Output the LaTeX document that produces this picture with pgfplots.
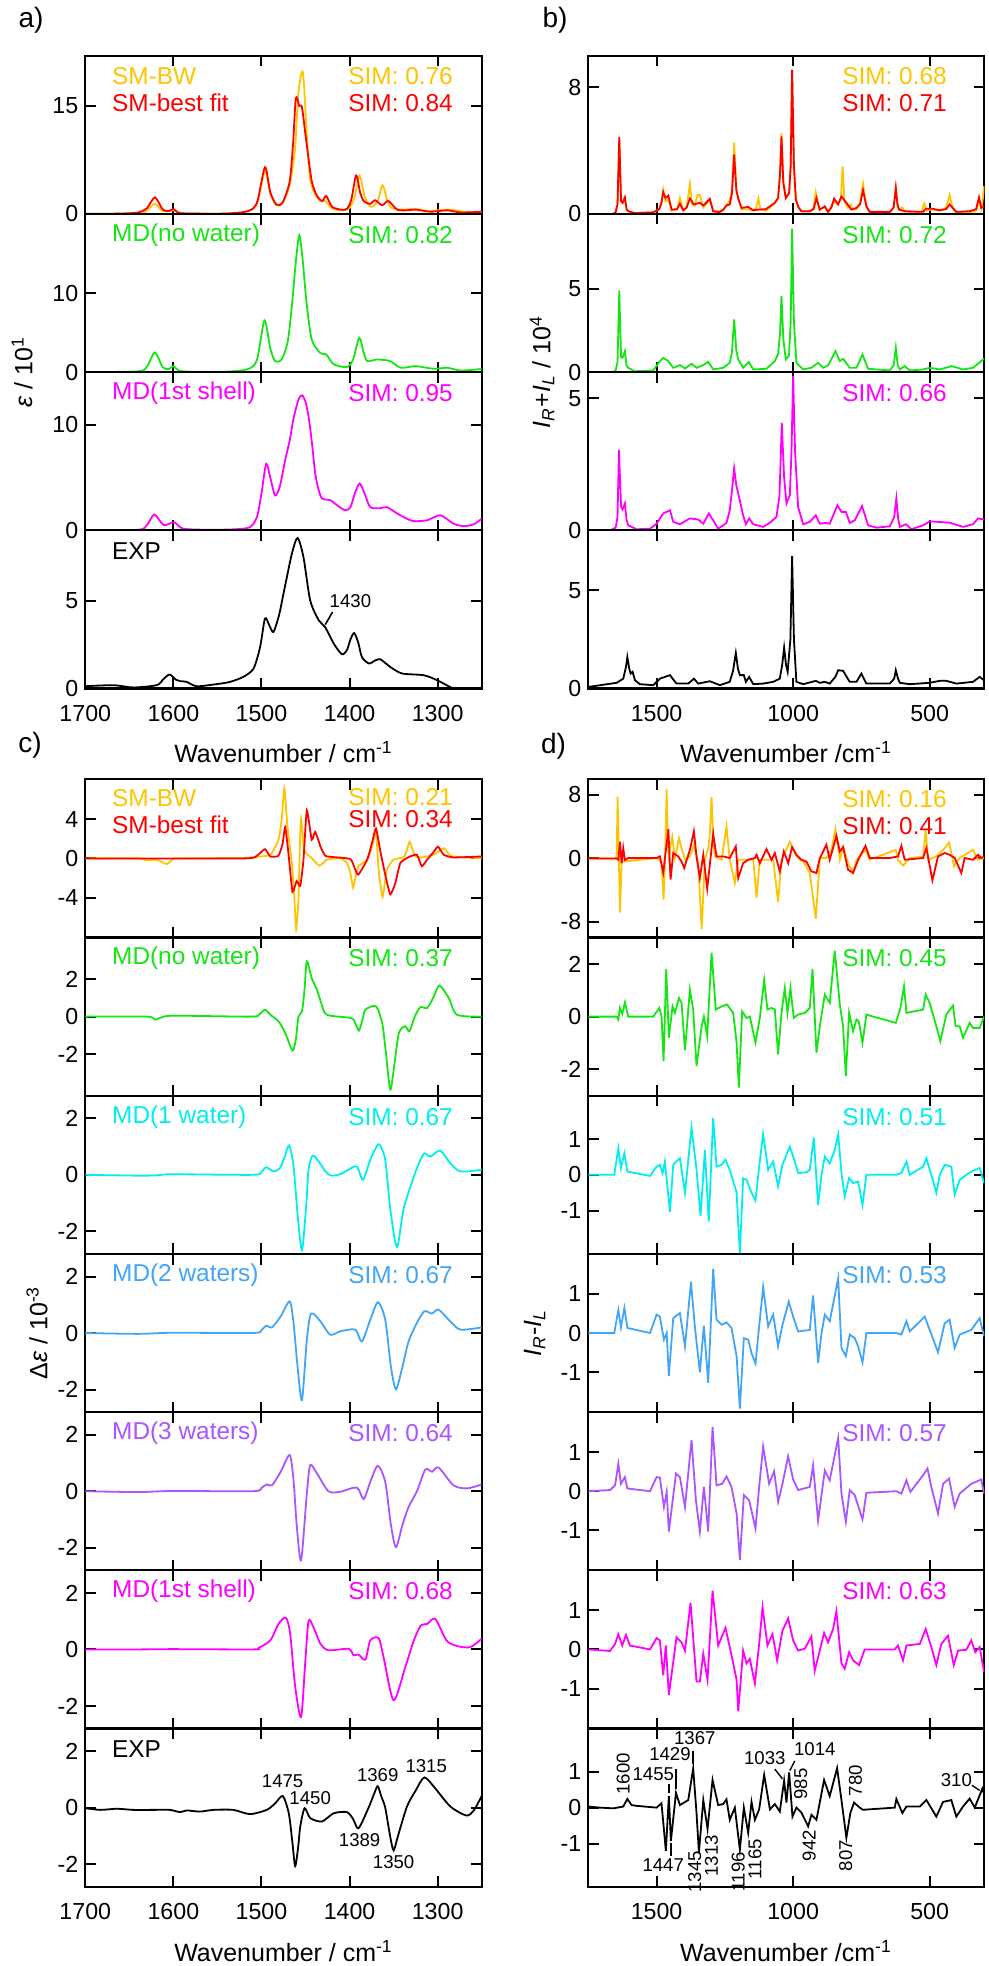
\documentclass[border=0pt]{standalone}
\usepackage{fontspec}
\setmainfont{Liberation Sans}
\usepackage{pgfplots}
\pgfplotsset{compat=1.18}
\definecolor{cgold}{RGB}{255,196,0}
\definecolor{cred}{RGB}{255,0,0}
\definecolor{cgreen}{RGB}{20,230,20}
\definecolor{cmag}{RGB}{255,0,255}
\definecolor{ccyan}{RGB}{0,238,238}
\definecolor{cblue}{RGB}{66,165,245}
\definecolor{cpurp}{RGB}{170,85,255}
\newcommand{\tkf}{\fontsize{11.6}{13}\selectfont}
\newcommand{\lbf}{\fontsize{12.2}{14}\selectfont}
\newcommand{\axf}{\fontsize{12.5}{14}\selectfont}
\newcommand{\anf}{\fontsize{9.3}{11}\selectfont}
\newcommand{\pnf}{\fontsize{14}{16}\selectfont}
\pgfplotsset{
  sub/.style={scale only axis, height=79.1pt, x dir=reverse, anchor=south west,
    axis line style={line width=1.1pt}, tick style={line width=1pt, black},
    major tick length=5.3pt, tick label style={font=\tkf},
    /pgf/number format/assume math mode=true,
    /pgf/number format/1000 sep={},
    xticklabel style={yshift=-5pt},
    every axis plot/.append style={line width=0.9pt, mark=none}},
  aset/.style={sub, width=198.2pt, xmin=1250, xmax=1700, xtick={1300,1400,1500,1600,1700},
    every axis plot/.append style={smooth, tension=0.45}},
  bset/.style={sub, width=198pt, xmin=300, xmax=1750, xtick={500,1000,1500}},
  nox/.style={xticklabels={}}
}
\newcommand{\Ltxt}[3]{\node[anchor=west,text=#1,font=\lbf] at (rel axis cs:0.05,#2) {#3};}
\newcommand{\Rtxt}[3]{\node[anchor=east,text=#1,font=\lbf] at (rel axis cs:0.945,#2) {#3};}
\newcommand{\Rtxtb}[3]{\node[anchor=east,text=#1,font=\lbf] at (rel axis cs:0.923,#2) {#3};}
\begin{document}
\begin{tikzpicture}
\path[use as bounding box] (0,0) rectangle (494.5pt,-983pt);
% ---------------- panel a ----------------
\begin{axis}[aset, nox, at={(42.65pt,-106.95pt)}, ymin=0, ymax=22, ytick={0,15}]
\addplot[cgold] coordinates {(1700,0) (1640,0.1) (1630,0.5) (1621,1.4) (1612,0.4) (1600,0.5) (1590,0.1) (1540,0.05) (1515,0.4) (1505,1.5) (1496,5.95) (1490,2.8) (1483,1.2) (1476,1.5) (1468,4.0) (1462,9) (1458,16.9) (1453,19.7) (1449,12) (1445,5) (1439,2.7) (1433,1.8) (1427.6,1.8) (1420,0.8) (1410,0.5) (1400,0.8) (1394,2.5) (1388.6,5.35) (1383,2.5) (1378,1.2) (1374,1.0) (1368,1.8) (1362.5,4.0) (1357,1.8) (1352,0.8) (1340,0.6) (1325,0.7) (1310,0.4) (1287.5,0.6) (1270,0.3) (1250,0.2)};
\addplot[cred] coordinates {(1700,0) (1660,0.05) (1640,0.2) (1630,0.8) (1621,2.3) (1612,0.6) (1605,0.4) (1600,0.7) (1594,0.15) (1580,0.05) (1540,0.05) (1515,0.4) (1505,1.6) (1496,6.5) (1490,3.0) (1483,1.3) (1476,1.6) (1468,4.5) (1464,10) (1461,16.1) (1457,15.0) (1454,14.8) (1449,10) (1443,4.6) (1437,2.5) (1431,1.8) (1426.5,2.5) (1420,1.0) (1410,0.6) (1403,0.7) (1398,2.0) (1392.5,5.35) (1388,3.0) (1384,1.8) (1376.5,1.4) (1371,1.9) (1363,1.2) (1356,1.8) (1346,0.6) (1335,0.5) (1325,0.6) (1308,0.3) (1289,0.5) (1274,0.2) (1250,0.3)};
\Ltxt{cgold}{0.872}{SM-BW}
\Ltxt{cred}{0.703}{SM-best fit}
\Rtxt{cgold}{0.872}{SIM: 0.76}
\Rtxt{cred}{0.703}{SIM: 0.84}
\end{axis}
\begin{axis}[aset, nox, at={(42.65pt,-186.05pt)}, ymin=0, ymax=20.1, ytick={0,10}]
\addplot[cgreen] coordinates {(1700,0) (1640,0.1) (1630,0.7) (1621,2.5) (1612,0.6) (1605,0.4) (1600,0.76) (1594,0.2) (1580,0.05) (1540,0.05) (1515,0.4) (1505,1.6) (1496.6,6.57) (1490,3.0) (1484.5,1.4) (1477,1.6) (1470,4) (1465,9) (1461,14) (1457,17.4) (1453,14) (1449,9) (1443,4.15) (1433,2.4) (1426.5,2.25) (1418,1.0) (1403,0.64) (1396,1.6) (1389,4.36) (1384,2.5) (1380,1.4) (1369,1.6) (1354,1.4) (1342,0.55) (1325,0.76) (1304.5,0.42) (1289,0.55) (1274,0.2) (1250,0.4)};
\Ltxt{cgreen}{0.867}{MD(no water)}
\Rtxt{cgreen}{0.867}{SIM: 0.82}
\end{axis}
\begin{axis}[aset, nox, at={(42.65pt,-265.15pt)}, ymin=0, ymax=15, ytick={0,10}]
\addplot[cmag] coordinates {(1700,0) (1640,0.05) (1630,0.5) (1621.6,1.5) (1611,0.5) (1599,0.76) (1589,0.16) (1560,0.05) (1530,0.1) (1513,0.3) (1505,1.3) (1500,3.5) (1494.7,6.3) (1490,5) (1484.5,3.3) (1479,4.2) (1473,6.7) (1468,8.5) (1463.6,10.6) (1458,12.4) (1454,12.8) (1450,12.2) (1446.6,10.8) (1443,8.5) (1439,5.4) (1435,3.8) (1431,3.0) (1422,2.86) (1414.4,2.4) (1405,1.9) (1399,2.2) (1394,3.5) (1388.6,4.44) (1383,3.5) (1376.5,2.2) (1365,2.1) (1357.6,2.2) (1346,1.6) (1329,0.9) (1312,0.95) (1297,1.43) (1282,0.63) (1270.5,0.4) (1259,0.57) (1250,1.1)};
\Ltxt{cmag}{0.867}{MD(1st shell)}
\Rtxt{cmag}{0.867}{SIM: 0.95}
\end{axis}
\begin{axis}[aset, at={(42.65pt,-344.25pt)}, ymin=0, ymax=9.04, ytick={0,5}]
\addplot[black] coordinates {(1700,0.13) (1668,0.19) (1645.5,0.06) (1619,0.19) (1612,0.5) (1604.5,0.8) (1597,0.5) (1592.4,0.42) (1585,0.38) (1573.5,0.13) (1551,0.25) (1535.6,0.38) (1520.5,0.67) (1509,1.14) (1501.5,2.38) (1496,4.0) (1491,3.6) (1486.4,3.23) (1480,4.2) (1475,5.42) (1465.5,7.7) (1459,8.6) (1452.3,7.5) (1444.7,5.04) (1435,3.9) (1427.6,3.5) (1418,2.57) (1408.7,1.96) (1403,2.19) (1399,2.8) (1394.7,3.17) (1390,2.6) (1386,1.8) (1378,1.43) (1371,1.6) (1365,1.67) (1354,1.24) (1340.5,0.86) (1316,0.76) (1300.8,0.48) (1282.6,0) (1265,-0.4) (1250,-0.6)};
\Ltxt{black}{0.867}{EXP}
\draw[line width=0.8pt] (axis cs:1427.6,3.65) -- (axis cs:1419.3,4.37);
\node[font=\anf] at (axis cs:1399,5.0) {1430};
\end{axis}
% ---------------- panel b ----------------
\begin{axis}[bset, nox, at={(294.15pt,-106.95pt)}, ymin=0, ymax=10, ytick={0,8}]
\addplot[cgold] coordinates {(1750,0) (1660,0) (1650,0.1) (1643,0.6) (1636.6,4.7) (1630,0.8) (1624.4,0.7) (1616,1.0) (1610,0.3) (1603.7,0.17) (1580,0.05) (1512,0.1) (1490,0.3) (1482,0.8) (1475.6,1.55) (1467,0.8) (1457,0.9) (1445,0.2) (1425,0.3) (1414.6,1.0) (1402.4,0.2) (1390,0.4) (1378,1.9) (1370,0.6) (1360,0.5) (1350,1.2) (1341.5,1.2) (1329,0.4) (1305,0.9) (1292.7,0.15) (1256,0.2) (1244,0.6) (1232,0.84) (1224,1.5) (1216,4.5) (1208,1.6) (1201,1.0) (1189,0.3) (1164.6,0.3) (1146,0.2) (1135,0.4) (1127,1.0) (1120,0.3) (1100,0.2) (1085,0.4) (1067,0.7) (1055,1.0) (1048,2.6) (1042.7,5.1) (1036,2.0) (1027,1.0) (1014.6,1.3) (1009,3) (1003.7,9.1) (997,3.0) (990,0.9) (980,0.4) (969.5,0.15) (939,0.15) (925,0.4) (917,1.37) (905,0.3) (884,0.4) (872,0.1) (850,0.8) (835,0.6) (825,1.0) (819,3.0) (812,0.8) (800,0.4) (790,0.6) (780,0.3) (768,0.3) (755,0.7) (744,1.9) (731.7,0.4) (719.5,0.1) (646,0.1) (632,0.4) (624,1.6) (618,0.6) (612,0.3) (600,0.4) (591.5,0.15) (530,0.1) (520,0.65) (510,0.2) (494,0.3) (463,0.2) (440,0.4) (427,1.2) (415,0.3) (402.4,0.1) (353.6,0.1) (330,0.2) (319.5,0.8) (311,0.3) (305,1.0) (301,1.75)};
\addplot[cred] coordinates {(1750,0) (1660,0) (1650,0.1) (1643,0.6) (1636.6,4.86) (1630,0.8) (1624.4,0.7) (1616,1.05) (1610,0.3) (1603.7,0.17) (1580,0.05) (1512,0.1) (1490,0.3) (1482,0.7) (1475.6,1.37) (1467,1.0) (1457,1.16) (1445,0.27) (1425,0.3) (1414.6,0.65) (1402.4,0.23) (1390,0.4) (1378,0.97) (1363.4,0.6) (1341.5,0.7) (1329,0.53) (1305,0.95) (1292.7,0.17) (1270,0.1) (1256,0.27) (1244,0.53) (1232,0.6) (1224,1.3) (1216,3.75) (1208,1.5) (1201,0.97) (1189,0.38) (1164.6,0.44) (1146,0.23) (1128,0.27) (1100,0.3) (1085,0.48) (1067,0.7) (1055,1.0) (1048,2.5) (1042.7,4.9) (1036,2.0) (1027,1.0) (1014.6,1.33) (1009,3) (1003.7,9.1) (997,3.0) (990,0.9) (980,0.4) (969.5,0.17) (939,0.17) (925,0.3) (914.6,1.0) (902.4,0.27) (884,0.48) (872,0.13) (860,0.4) (850,0.97) (835.4,0.6) (823,1.1) (805,0.7) (786.6,0.27) (768.3,0.38) (755,0.6) (744,1.5) (731.7,0.48) (719.5,0.13) (646,0.13) (632,0.4) (624,1.64) (618,0.6) (612,0.27) (591.5,0.17) (524.4,0.13) (514.6,0.32) (494,0.34) (463,0.23) (440,0.3) (426.8,0.6) (402.4,0.13) (353.6,0.17) (330,0.3) (319.5,1.05) (311,0.38) (301,0.48)};
\Rtxtb{cgold}{0.872}{SIM: 0.68}
\Rtxtb{cred}{0.703}{SIM: 0.71}
\end{axis}
\begin{axis}[bset, nox, at={(294.15pt,-186.05pt)}, ymin=0, ymax=9.5, ytick={0,5}]
\addplot[cgreen] coordinates {(1750,0) (1660,0) (1650,0.1) (1643,0.6) (1636.6,4.9) (1630,0.9) (1624.4,0.86) (1616,1.26) (1610,0.4) (1603.7,0.26) (1580,0.05) (1512,0.1) (1487.8,0.66) (1475.6,0.86) (1457,0.66) (1439,0.26) (1414.6,0.42) (1396,0.22) (1372,0.5) (1353.7,0.26) (1329,0.42) (1311,0.62) (1292.7,0.16) (1256,0.26) (1232,0.56) (1224,1.2) (1216,3.16) (1208,1.3) (1201,0.76) (1183,0.26) (1162,0.6) (1146,0.16) (1097.6,0.2) (1067,0.66) (1055,1.1) (1048,2.3) (1042.7,4.56) (1036,2.0) (1027,0.76) (1015,1.0) (1009,3) (1003.7,8.6) (997,3) (988,0.56) (963.4,0.16) (933,0.26) (908.5,0.56) (890,0.26) (872,0.4) (845,1.26) (829,0.66) (817,0.8) (792.7,0.26) (768,0.26) (746,1.06) (725.6,0.2) (646,0.1) (632,0.4) (624,1.46) (617,0.4) (609,0.16) (591.5,0.36) (573,0.1) (524,0.16) (500,0.26) (463,0.16) (420,0.36) (378,0.16) (341.5,0.26) (301,0.8)};
\Rtxtb{cgreen}{0.867}{SIM: 0.72}
\end{axis}
\begin{axis}[bset, nox, at={(294.15pt,-265.15pt)}, ymin=0, ymax=6, ytick={0,5}]
\addplot[cmag] coordinates {(1750,0) (1670,0) (1650,0.1) (1643,0.5) (1637.8,3.05) (1630,0.9) (1624.4,0.79) (1616,1.02) (1610,0.4) (1603.7,0.19) (1573,0.04) (1524,0.06) (1500,0.25) (1475.6,0.64) (1451,0.76) (1439,0.32) (1414.6,0.23) (1378,0.45) (1347.6,0.41) (1329,0.25) (1308.5,0.64) (1292.7,0.38) (1274.4,0.06) (1244,0.28) (1232,0.76) (1224,1.5) (1216,2.35) (1208,1.7) (1201,1.4) (1183,0.57) (1173,0.23) (1161,0.45) (1146,0.23) (1109.8,0.13) (1085,0.29) (1061,0.51) (1050,1.3) (1041.5,4.07) (1033,2.0) (1024.4,1.02) (1012,1.34) (1006,3) (1000,5.85) (993,3) (981.7,0.89) (963.4,0.23) (939,0.32) (917,0.57) (902.4,0.25) (884,0.28) (866,0.25) (838,0.95) (823,0.7) (807,0.7) (792.7,0.28) (774.4,0.38) (747.6,0.92) (725.6,0.19) (695,0.1) (646,0.15) (630,0.5) (622,1.21) (615,0.4) (609,0.13) (587,0.23) (567,0.04) (524,0.19) (500,0.34) (427,0.29) (378,0.13) (341.5,0.23) (323,0.45) (301,0.41)};
\Rtxtb{cmag}{0.867}{SIM: 0.66}
\end{axis}
\begin{axis}[bset, at={(294.15pt,-344.25pt)}, ymin=0, ymax=8.05, ytick={0,5}]
\addplot[black] coordinates {(1750,0.08) (1646,0.29) (1622,0.5) (1612,1.1) (1607,1.6) (1600,1.0) (1595,0.76) (1588,0.85) (1579,0.42) (1561,0.22) (1512,0.17) (1488,0.5) (1451,0.68) (1427,0.25) (1384,0.25) (1363,0.5) (1347.6,0.25) (1305,0.37) (1268,0.17) (1232,0.34) (1220,0.9) (1209.8,1.81) (1202,1.0) (1195,0.68) (1180.5,0.68) (1173,0.34) (1161,0.59) (1146,0.22) (1109.8,0.25) (1073,0.34) (1061,0.42) (1049,0.5) (1040,1.2) (1033,2.08) (1026,1.2) (1020,0.85) (1010,2.5) (1003.7,6.73) (997,2.5) (988,0.34) (963,0.22) (917,0.39) (902,0.29) (884,0.34) (866,0.25) (845,0.6) (835,0.93) (817,0.9) (793,0.34) (768,0.34) (750,0.76) (732,0.25) (646,0.25) (630,0.5) (624,0.93) (616,0.5) (609,0.29) (573,0.22) (500,0.29) (463,0.39) (439,0.39) (402,0.25) (341.5,0.34) (317,0.59) (301,0.42)};
\end{axis}
% ---------------- panel c ----------------
\begin{axis}[aset, nox, at={(42.65pt,-468.75pt)}, ymin=-8.05, ymax=8.05, ytick={-4,0,4}, every axis plot/.append style={tension=0.3}]
\addplot[cgold] coordinates {(1700,0) (1640,0) (1630,-0.2) (1619,-0.13) (1607.6,-0.57) (1600,-0.05) (1590,0) (1520,0.05) (1509,0.13) (1490,0.37) (1480.7,1.9) (1477,4) (1474,7.1) (1470.5,3.2) (1465.5,-0.47) (1463,-3.5) (1460.6,-7.2) (1458,-4.2) (1456.5,1) (1455,4.07) (1451.5,0.87) (1443,0.03) (1434,-0.74) (1425.8,-0.13) (1410.6,0) (1403,-0.47) (1399,-1.5) (1396,-3.0) (1393,-1.8) (1390,-0.8) (1380,-0.13) (1374.6,1.2) (1370,2.7) (1367,-1.14) (1362.5,-3.93) (1357.6,-1.14) (1350,-0.13) (1338.6,0.13) (1335,0.8) (1332,1.7) (1328,0.8) (1325.4,0.2) (1318,0.1) (1304.5,0.37) (1293,1.04) (1283.7,0.2) (1250,0.03)};
\addplot[cred] coordinates {(1700,0) (1520,0) (1505,0.3) (1496,0.94) (1490,0.2) (1480.7,0.27) (1476,1.5) (1473,3.2) (1469,0.2) (1464.8,-3.4) (1460,-2.3) (1456,-2.8) (1452.3,-0.13) (1448.5,4.9) (1443,1.9) (1439,2.7) (1433,1.2) (1427.6,0.27) (1418,0.13) (1399,-0.07) (1393.6,-1.14) (1390,-1.65) (1380,-0.13) (1374.6,1.55) (1370,3.06) (1365,0.7) (1359.5,-1.65) (1353.8,-3.66) (1348,-2.5) (1342.4,-0.47) (1333,0.13) (1323.5,0.37) (1318,-0.8) (1312,-0.13) (1305,0.6) (1299.6,1.2) (1293,0.37) (1282,0.1) (1250,0.2)};
\Ltxt{cgold}{0.88}{SM-BW}
\Ltxt{cred}{0.71}{SM-best fit}
\Rtxt{cgold}{0.89}{SIM: 0.21}
\Rtxt{cred}{0.75}{SIM: 0.34}
\end{axis}
\begin{axis}[aset, nox, at={(42.65pt,-547.85pt)}, ymin=-4.2, ymax=4.2, ytick={-2,0,2}]
\addplot[cgreen] coordinates {(1700,0) (1630,0) (1621,-0.16) (1611,0) (1596,0.05) (1513,0) (1503,0.1) (1496,0.37) (1490,0.1) (1480.7,-0.25) (1473,-0.87) (1464.8,-1.8) (1461,-1.2) (1458,0) (1454,0.28) (1451,1.5) (1448.5,2.94) (1443,2.05) (1437,1.43) (1432,0.7) (1425.8,0.1) (1399,-0.07) (1394,-0.3) (1389.4,-0.74) (1385,-0.1) (1382,0.37) (1370,0.55) (1363,-0.34) (1359,-1.8) (1353.8,-3.88) (1349,-2.5) (1344,-0.87) (1336.7,-0.51) (1332,-0.78) (1326,0.0) (1319.7,0.5) (1312,0.46) (1305,1.0) (1298,1.65) (1287.5,1.0) (1278,0.1) (1250,0)};
\Ltxt{cgreen}{0.867}{MD(no water)}
\Rtxt{cgreen}{0.867}{SIM: 0.37}
\end{axis}
\begin{axis}[aset, nox, at={(42.65pt,-626.95pt)}, ymin=-2.8, ymax=2.8, ytick={-2,0,2}]
\addplot[ccyan] coordinates {(1700,0) (1640,-0.03) (1620,-0.02) (1600,0.02) (1510,0) (1500,0.1) (1494.7,0.27) (1486.4,0.12) (1479,0.24) (1474,0.6) (1468.6,1.04) (1463.6,0.3) (1458.7,-1.5) (1454,-2.67) (1449,-1.0) (1446.6,0.18) (1442,0.68) (1435,0.47) (1428,0.15) (1422,-0.02) (1410.6,0.02) (1392.4,0.3) (1385,-0.18) (1376.5,0.53) (1371,0.9) (1366.3,1.08) (1359.5,0.53) (1353.8,-1.2) (1346.2,-2.56) (1338.6,-1.2) (1327,-0.06) (1320,0.5) (1315,0.76) (1308,0.65) (1297,0.86) (1285.6,0.41) (1274,0.12) (1250,0.18)};
\Ltxt{ccyan}{0.867}{MD(1 water)}
\Rtxt{ccyan}{0.867}{SIM: 0.67}
\end{axis}
\begin{axis}[aset, nox, at={(42.65pt,-706.05pt)}, ymin=-2.8, ymax=2.8, ytick={-2,0,2}]
\addplot[cblue] coordinates {(1700,0) (1640,-0.03) (1600,0.01) (1510,0) (1500,0.1) (1494.7,0.26) (1488,0.2) (1478,0.6) (1468,1.12) (1463.6,0.36) (1459,-1.2) (1454,-2.37) (1448.5,-0.24) (1443.6,0.69) (1433,0.41) (1422,-0.06) (1410.6,0.06) (1393.6,0.12) (1386,-0.3) (1376.5,0.47) (1367.8,1.09) (1359.5,0.47) (1353,-1.2) (1347.3,-1.99) (1340,-1.2) (1333,-0.3) (1323.5,0.36) (1315,0.77) (1306.4,0.69) (1299,0.83) (1285.6,0.41) (1274,0.12) (1250,0.2)};
\Ltxt{cblue}{0.867}{MD(2 waters)}
\Rtxt{cblue}{0.867}{SIM: 0.67}
\end{axis}
\begin{axis}[aset, nox, at={(42.65pt,-785.15pt)}, ymin=-2.8, ymax=2.8, ytick={-2,0,2}]
\addplot[cpurp] coordinates {(1700,0) (1640,-0.03) (1600,0.01) (1510,0) (1500,0.12) (1494,0.24) (1488,0.21) (1478,0.7) (1468,1.28) (1463.6,0.39) (1460,-1.2) (1455,-2.45) (1448.5,-0.08) (1444.7,0.92) (1437,0.63) (1424,0) (1410.6,-0.02) (1391.7,0.13) (1384,-0.28) (1376.5,0.33) (1368,0.9) (1359.5,0.33) (1353,-1.2) (1347.3,-1.98) (1340,-1.2) (1333,-0.56) (1323.5,0) (1314,0.77) (1306.4,0.69) (1299,0.84) (1282,0.21) (1266.7,0.1) (1250,0.24)};
\Ltxt{cpurp}{0.867}{MD(3 waters)}
\Rtxt{cpurp}{0.867}{SIM: 0.64}
\end{axis}
\begin{axis}[aset, nox, at={(42.65pt,-864.25pt)}, ymin=-2.8, ymax=2.8, ytick={-2,0,2}]
\addplot[cmag] coordinates {(1700,0) (1640,0) (1600,0.01) (1510,0) (1503.4,0.05) (1490,0.32) (1480.7,0.9) (1472.3,1.12) (1467.4,0.55) (1461.7,-1.33) (1455,-2.39) (1450.4,-0.5) (1446.6,1.0) (1441,0.79) (1433,0.2) (1424,-0.03) (1401,0.02) (1395.5,-0.21) (1390,-0.18) (1382,-0.36) (1376.5,0.32) (1367,0.4) (1361.4,-0.27) (1350,-1.8) (1336.7,-0.62) (1327,0.32) (1319,0.85) (1312,0.9) (1302.7,1.08) (1290,0.32) (1278,0.12) (1263,0.08) (1250,0.38)};
\Ltxt{cmag}{0.867}{MD(1st shell)}
\Rtxt{cmag}{0.867}{SIM: 0.68}
\end{axis}
\begin{axis}[aset, clip=false, at={(42.65pt,-943.35pt)}, ymin=-2.8, ymax=2.8, ytick={-2,0,2}]
\addplot[black] coordinates {(1700,-0.02) (1683,-0.08) (1664,-0.04) (1645.5,-0.08) (1622.7,-0.08) (1604,-0.08) (1592.4,-0.16) (1585,-0.1) (1570,-0.14) (1554.5,-0.08) (1532,-0.08) (1513,-0.23) (1494,-0.08) (1484.5,0.15) (1475.8,0.41) (1469,-0.2) (1465,-1.2) (1461.7,-2.07) (1458,-1.3) (1456,-0.67) (1451,-0.02) (1444.7,-0.37) (1431.4,-0.49) (1418,-0.2) (1403,-0.16) (1396,-0.4) (1389.8,-0.73) (1378.4,0) (1372,0.5) (1368,0.76) (1364,0.4) (1359.5,0) (1354,-1.0) (1350,-1.51) (1345,-1.0) (1334.8,0.04) (1325,0.6) (1315,1.07) (1302.7,0.68) (1285.6,0.04) (1267.4,-0.28) (1259,-0.1) (1250,0.41)};
\Ltxt{black}{0.867}{EXP}
\node[font=\anf] at (axis cs:1476,0.93) {1475};
\node[font=\anf] at (axis cs:1444.7,0.32) {1450};
\node[font=\anf] at (axis cs:1388.6,-1.14) {1389};
\node[font=\anf] at (axis cs:1368,1.15) {1369};
\node[font=\anf] at (axis cs:1313,1.47) {1315};
\node[font=\anf] at (axis cs:1350,-1.93) {1350};
\end{axis}
% ---------------- panel d ----------------
\begin{axis}[bset, nox, at={(294.15pt,-468.75pt)}, ymin=-9.95, ymax=9.95, ytick={-8,0,8}]
\addplot[cgold] coordinates {(1750,0) (1650,0) (1646,0.5) (1642.7,7.75) (1638,0) (1634,-6.83) (1628,-0.5) (1624,-0.4) (1500,0.05) (1482,-0.4) (1474.4,-5.17) (1469,0) (1463,8.67) (1459,2) (1454.9,0.25) (1442.7,2.67) (1433,0.05) (1418,2.54) (1408.5,1.3) (1396,-0.17) (1378,0.25) (1363,1.7) (1347.6,-0.6) (1335,-8.9) (1323,-0.17) (1311,1.3) (1305,3) (1298.8,7.75) (1292,2) (1286.6,0.25) (1262,-0.17) (1244,4.0) (1232,-0.17) (1213.4,-3.08) (1201,-0.17) (1146,-0.17) (1134,-4.96) (1122,-0.17) (1073,-0.17) (1055,-5.5) (1042.7,-0.17) (1012,2.1) (988,0.25) (960,-0.5) (939,-1.83) (917,-7.58) (902,0.05) (878,0.05) (860,1.0) (845,3.67) (829,-0.17) (817,1.5) (799,-0.6) (780.5,-1.83) (768,-0.17) (735,1.08) (719.5,-0.17) (624,1.08) (616,-0.17) (597.6,-0.9) (573,0.05) (524,0.2) (514.6,3.58) (506,-0.17) (475.6,0.25) (445,1.3) (429,2.0) (410.6,-1.0) (390,0.05) (341.5,1.08) (323,-0.17) (301,0.05)};
\addplot[cred] coordinates {(1750,0) (1646,0) (1640,-0.17) (1634,2.1) (1628,-0.6) (1622,1.3) (1616,-0.2) (1603.7,0.05) (1500,0.05) (1488,0.25) (1475.6,-1.8) (1457,3.67) (1448.8,-2.67) (1439,0.67) (1420.7,0.25) (1408.5,-0.4) (1398.8,-1.2) (1378,1.08) (1363.4,3.4) (1353.7,0.25) (1341.5,-2.46) (1329,0.46) (1314.6,-3.8) (1292.7,3.1) (1280.5,0.25) (1256,0.25) (1232,0.05) (1210,1.5) (1201,-2.46) (1183,-0.6) (1164.6,-0.17) (1140,0.05) (1134,0.46) (1122,-0.6) (1097.6,1.17) (1079,-0.17) (1067,0.67) (1048.8,-1.63) (1034,0.87) (1018,-0.6) (1003.7,1.42) (988,0.46) (969.5,-0.17) (951,-0.4) (933,-1.63) (914.6,-1.83) (902,0.05) (878,1.71) (866,-0.17) (841.5,2.83) (829,0.87) (817,1.42) (799,-1.42) (780.5,-1.83) (762,-0.17) (735,1.58) (719.5,0.05) (646,0.05) (616,0.25) (603.7,1.58) (591.5,-0.17) (524,0.05) (512,1.3) (490,-2.75) (469.5,0.25) (445,0.67) (427,0.46) (408.5,0.05) (384,-1.83) (372,0.05) (341.5,-0.17) (323,0.46) (311,0.05) (301,0.25)};
\Rtxtb{cgold}{0.875}{SIM: 0.16}
\Rtxtb{cred}{0.707}{SIM: 0.41}
\end{axis}
\begin{axis}[bset, nox, at={(294.15pt,-547.85pt)}, ymin=-3.02, ymax=3.02, ytick={-2,0,2}]
\addplot[cgreen] coordinates {(1750,0) (1646,0) (1640,-0.11) (1634,0.33) (1625.6,0.1) (1616,0.54) (1603.7,0) (1512,0) (1490,0.33) (1481.7,0) (1474.4,-1.7) (1464.6,1.81) (1455,-0.81) (1441.5,0.39) (1433,0.14) (1418,0.71) (1408.5,0.52) (1396,-1.29) (1378,1.03) (1366,0.27) (1353.7,-1.89) (1335,-0.37) (1326.8,0) (1314.6,-0.75) (1298.8,2.44) (1283,0.27) (1262,0.39) (1241.5,0.46) (1219.5,0.14) (1207,-1.0) (1198.8,-2.71) (1186.6,0.2) (1170.7,-0.05) (1158.5,0) (1137.8,-1.0) (1122,-0.05) (1106,1.4) (1094,0.27) (1079,0.33) (1067,0.27) (1055,-1.44) (1042.7,0.14) (1030.5,1.09) (1020.7,0.14) (1009.8,1.09) (997.6,-0.05) (981.7,0.08) (957.3,0.14) (939,0.33) (929,1.81) (914.6,-1.38) (902.4,-0.37) (884,0.84) (866,0.52) (847.6,2.52) (829,0.46) (817,-0.37) (807,-2.27) (795,0.14) (780.5,-0.56) (768,-0.11) (759.8,-0.18) (746,-1.0) (731.7,0.08) (707,0) (624,-0.24) (607,0.33) (593.9,1.15) (585,0.14) (524,0.27) (514.6,0.84) (500,0.52) (475.6,-0.37) (461,-0.94) (439,0.08) (414.6,0.42) (404.9,-0.37) (390,-0.37) (378,-0.81) (353.7,-0.24) (341.5,-0.43) (317,-0.43) (301,0)};
\Rtxtb{cgreen}{0.867}{SIM: 0.45}
\end{axis}
\begin{axis}[bset, nox, at={(294.15pt,-626.95pt)}, ymin=-2.21, ymax=2.21, ytick={-1,0,1}]
\addplot[ccyan] coordinates {(1750,0) (1655,0) (1640,0.74) (1630.5,0.19) (1618,0.6) (1607,0.09) (1524,-0.03) (1500,0.23) (1488,0.28) (1478,0.05) (1469.5,0.37) (1451,-1.03) (1439,0.28) (1429,0.37) (1414.6,0.46) (1396,-0.5) (1372,1.32) (1353.7,0.14) (1339,-1.15) (1323,0.69) (1309,-1.31) (1292.7,1.59) (1280.5,0.23) (1262,0.28) (1247.6,0.42) (1232,0.14) (1207,-0.5) (1195,-2.2) (1183,-0.1) (1170.7,-0.14) (1152.4,-0.5) (1137.8,-0.72) (1124.4,0.23) (1109.8,1.14) (1091.5,0.14) (1073,0.37) (1055,-0.32) (1039,0.28) (1012,0.79) (997.6,0.46) (981.7,0.05) (951,0.07) (939,0.14) (924.4,1.04) (908.5,-0.84) (896,0) (884,0.51) (866,0.32) (847.6,0.69) (835,1.13) (823,0.05) (811,-0.6) (795,-0.09) (780.5,-0.23) (762,-0.19) (746,-0.84) (731.7,0) (713,0) (622,0) (603.7,0.05) (585,0.37) (573,0) (524,0.23) (512,0.46) (494,0) (475.6,-0.5) (463,0) (445,0.28) (420.7,0.23) (408.5,-0.55) (390,-0.14) (366,0) (347.6,0.09) (317,0.19) (301,-0.23)};
\Rtxtb{ccyan}{0.867}{SIM: 0.51}
\end{axis}
\begin{axis}[bset, nox, at={(294.15pt,-706.05pt)}, ymin=-2.02, ymax=2.02, ytick={-1,0,1}]
\addplot[cblue] coordinates {(1750,0) (1655,0) (1640,0.59) (1630.5,0.14) (1618,0.64) (1607,0.13) (1524,0) (1500,0.47) (1488,0.42) (1473,-0.17) (1463,0) (1455,-1.1) (1439,0.38) (1414.6,0.51) (1396,-0.34) (1374,1.31) (1360,0.17) (1341.5,-1.0) (1326.8,0.19) (1311,-1.27) (1292.7,1.64) (1280.5,0.34) (1262,0.21) (1244,0.27) (1225.6,0.13) (1207,-0.59) (1195,-1.93) (1180.5,-0.13) (1164.6,-0.17) (1152.4,-0.51) (1137.8,-0.78) (1124.4,0.17) (1109.8,1.17) (1091.5,0.17) (1073,0.47) (1055,-0.34) (1039,0.21) (1016,0.8) (1000,0.42) (981.7,0.04) (939,0.08) (927,0.96) (908.5,-0.76) (896,0) (884,0.47) (866,0.3) (835,1.39) (823,-0.38) (807,-0.59) (792.7,-0.04) (774.4,-0.13) (762,-0.34) (746,-0.75) (731.7,0) (622,0) (603.7,-0.04) (585,0.3) (573,0.04) (518,0.42) (500,0.08) (469.5,-0.49) (445,0.25) (427,0.34) (408.5,-0.38) (390,-0.04) (347.6,0.08) (317,0.38) (301,-0.08)};
\Rtxtb{cblue}{0.867}{SIM: 0.53}
\end{axis}
\begin{axis}[bset, nox, at={(294.15pt,-785.15pt)}, ymin=-2.02, ymax=2.02, ytick={-1,0,1}]
\addplot[cpurp] coordinates {(1750,0) (1670.7,0.03) (1652,0.15) (1640,0.7) (1630.5,0.19) (1616,0.36) (1607,0.07) (1524,0) (1500,0.36) (1488,0.35) (1473,-0.4) (1463,-0.02) (1455,-1.03) (1429,0.45) (1414.6,0.36) (1396,-0.4) (1372,1.31) (1356,-0.23) (1341.5,-1.03) (1326.8,0.11) (1311,-1.03) (1295,1.64) (1280.5,0.15) (1259.8,0.19) (1244,0.38) (1225.6,0.11) (1207,-0.57) (1195,-1.75) (1180.5,-0.1) (1161,-0.23) (1137.8,-0.95) (1124.4,0.11) (1109.8,1.14) (1087.8,0.19) (1069.5,0.51) (1055,-0.27) (1039,0.19) (1018.3,0.89) (1000,0.3) (981.7,0.03) (939,0.11) (927,0.66) (908.5,-0.75) (884,0.53) (866,0.28) (835,1.36) (823,-0.06) (807,-0.78) (792.7,0.03) (774.4,-0.1) (746,-0.72) (731.7,-0.04) (622,0) (603.7,-0.06) (585,0.28) (570.7,-0.02) (524,0.41) (508,0.58) (494,0.11) (469.5,-0.57) (451,0.19) (429,0.32) (408.5,-0.4) (390,-0.06) (347.6,0.19) (311,0.3) (301,-0.06)};
\Rtxtb{cpurp}{0.867}{SIM: 0.57}
\end{axis}
\begin{axis}[bset, nox, at={(294.15pt,-864.25pt)}, ymin=-2.02, ymax=2.02, ytick={-1,0,1}]
\addplot[cmag] coordinates {(1750,0) (1670.7,-0.04) (1652,0.14) (1640,0.39) (1625.6,0.1) (1612,0.37) (1597.6,0.1) (1524,0) (1500,0.29) (1488,0.23) (1475.6,-0.66) (1466,0.1) (1455,-1.16) (1427,0.31) (1408.5,0.18) (1396,-0.03) (1375.6,1.19) (1353.7,-0.82) (1341.5,-0.82) (1329,-0.11) (1313.4,-0.78) (1295,1.5) (1274.4,0.1) (1247.6,0.55) (1225.6,-0.15) (1207,-0.78) (1201,-1.58) (1183,-0.03) (1170.7,-0.36) (1158.5,-0.24) (1140,-0.87) (1124.4,0.14) (1112,1.08) (1094,0.1) (1075.6,0.39) (1058.5,-0.28) (1039,0.48) (1018.3,0.79) (1000,0.23) (981.7,-0.03) (957.3,0.02) (933,0.33) (921,-0.55) (902.4,-0.03) (886.6,0.42) (872,0.18) (853.7,0.52) (841.5,0.97) (823,-0.36) (811,-0.49) (795,-0.07) (780.5,-0.28) (758.5,-0.4) (738,0) (628,0) (616,0.1) (597.6,-0.28) (585,0.1) (536,0.14) (514.6,0.52) (494,0.06) (475.6,-0.4) (457.3,0.14) (433,0.35) (412,-0.4) (396,-0.03) (366,-0.01) (347.6,0.23) (333,-0.07) (317,0.06) (301,-0.57)};
\Rtxtb{cmag}{0.867}{SIM: 0.63}
\end{axis}
\begin{axis}[bset, clip=false, at={(294.15pt,-943.35pt)}, ymin=-2.2, ymax=2.2, ytick={-1,0,1}]
\addplot[black] coordinates {(1750,0.03) (1707,0) (1658.5,-0.02) (1622,0.03) (1607,0.24) (1591.5,0.07) (1573,0.05) (1500,0) (1482,0.12) (1466,-1.2) (1455,0.32) (1447.6,-0.93) (1429,0.41) (1414.6,0.07) (1384,0.21) (1366,1.09) (1353.7,-0.15) (1345,-1.25) (1329,0.21) (1313.4,-0.59) (1295,0.77) (1274.4,0.07) (1256,0.1) (1244,0.23) (1232,-0.34) (1213.4,0) (1195,-1.17) (1180.5,0) (1164.6,-0.7) (1152.4,0.16) (1140,-0.34) (1124.4,-0.05) (1106,0.91) (1085,-0.05) (1067,0.1) (1048.8,-0.11) (1033,0.75) (1024.4,0.14) (1014.6,0.98) (1002.4,-0.25) (988,0) (969.5,-0.14) (945,-0.52) (933,-0.2) (914.6,-0.34) (886.6,0.77) (866,0.32) (839,1.1) (823,0.21) (805,-0.84) (790.5,-0.15) (777,0.14) (756,0) (744,-0.06) (628,0) (622,0.24) (600,-0.15) (585,0.03) (536,0.03) (512,0.21) (475.6,-0.25) (451,0.16) (420.7,0.21) (402.4,-0.25) (378,0.03) (353.7,0.25) (335,0) (307,0.53) (301,0.39)};
\node[font=\anf,rotate=90] at (axis cs:1622,0.94) {1600};
\node[font=\anf] at (axis cs:1512,0.94) {1455};
\draw[line width=0.7pt] (axis cs:1455,0.66) -- (axis cs:1455,0.42);
\node[font=\anf] at (axis cs:1451,1.48) {1429};
\draw[line width=0.7pt] (axis cs:1429,1.07) -- (axis cs:1429,0.53);
\node[font=\anf] at (axis cs:1360,1.94) {1367};
\draw[line width=0.7pt] (axis cs:1366,1.57) -- (axis cs:1366,1.2);
\node[font=\anf] at (axis cs:1475.6,-1.61) {1447};
\draw[line width=0.7pt] (axis cs:1447.6,-0.97) -- (axis cs:1447.6,-1.34);
\node[font=\anf,rotate=90] at (axis cs:1360,-1.79) {1345};
\node[font=\anf,rotate=90] at (axis cs:1299,-1.34) {1313};
\node[font=\anf,rotate=90] at (axis cs:1201,-1.79) {1196};
\node[font=\anf,rotate=90] at (axis cs:1140,-1.43) {1165};
\node[font=\anf] at (axis cs:1103.7,1.39) {1033};
\draw[line width=0.7pt] (axis cs:1067,1.07) -- (axis cs:1039,0.8);
\node[font=\anf] at (axis cs:920.7,1.62) {1014};
\draw[line width=0.7pt] (axis cs:994,1.3) -- (axis cs:1012,1.03);
\node[font=\anf,rotate=90] at (axis cs:972,0.66) {985};
\node[font=\anf,rotate=90] at (axis cs:941.5,-1.06) {942};
\node[font=\anf,rotate=90] at (axis cs:807,-1.34) {807};
\node[font=\anf,rotate=90] at (axis cs:772,0.75) {780};
\node[font=\anf] at (axis cs:402.4,0.77) {310};
\draw[line width=0.7pt] (axis cs:345,0.62) -- (axis cs:317,0.48);
\end{axis}
% ---------------- outer labels ----------------
\node[font=\pnf] at (15.5pt,-10pt) {a)};
\node[font=\pnf] at (277.5pt,-10pt) {b)};
\node[font=\pnf] at (15pt,-372.75pt) {c)};
\node[font=\pnf] at (276.75pt,-373.25pt) {d)};
\node[font=\axf,rotate=90] at (11pt,-186pt) {\textit{ε} / 10\textsuperscript{1}};
\node[font=\axf,rotate=90] at (271pt,-186pt) {\textit{I}\textsubscript{\textit{R}}+\textit{I}\textsubscript{\textit{L}} / 10\textsuperscript{4}};
\node[font=\axf,rotate=90] at (18.5pt,-666.5pt) {Δ\textit{ε} / 10\textsuperscript{-3}};
\node[font=\axf,rotate=90] at (267.5pt,-666.5pt) {\textit{I}\textsubscript{\textit{R}}-\textit{I}\textsubscript{\textit{L}}};
\node[font=\axf] at (141.75pt,-376pt) {Wavenumber / cm\textsuperscript{-1}};
\node[font=\axf] at (393pt,-376pt) {Wavenumber /cm\textsuperscript{-1}};
\node[font=\axf] at (141.75pt,-975.5pt) {Wavenumber / cm\textsuperscript{-1}};
\node[font=\axf] at (393pt,-975.5pt) {Wavenumber /cm\textsuperscript{-1}};
\end{tikzpicture}
\end{document}
